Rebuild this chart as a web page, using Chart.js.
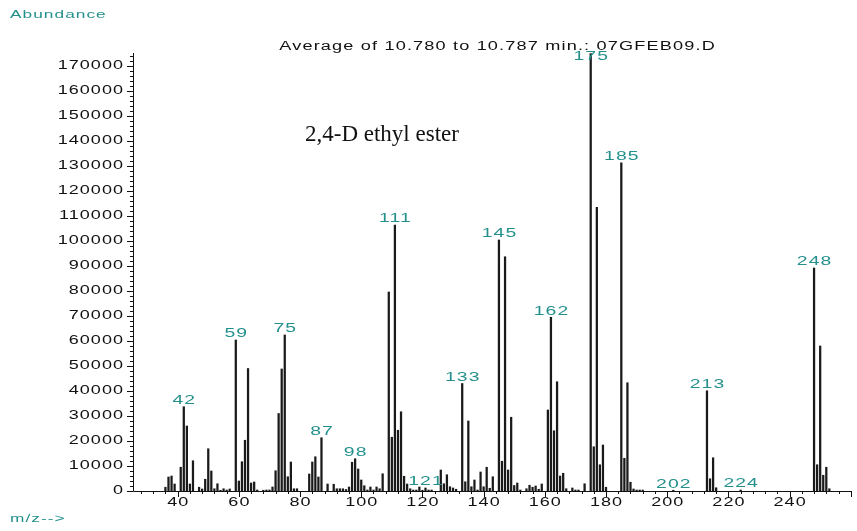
<!DOCTYPE html>
<html>
<head>
<meta charset="utf-8">
<script src="https://cdn.jsdelivr.net/npm/chart.js@4.4.1/dist/chart.umd.min.js"></script>
<style>
  html, body { margin: 0; padding: 0; background: #fff; }
  #wrap { width: 857px; height: 531px; }
</style>
</head>
<body>
<div id="wrap"><canvas id="ms" width="857" height="531"></canvas></div>
<script>
// mass spectrum, averaged scan

const INK = '#111111';
const PEAK = '#1a1a1a';
const TEAL = '#23908c';

const TITLE = 'Average of 10.780 to 10.787 min.: 07GFEB09.D';
const COMPOUND = '2,4-D ethyl ester';
const Y_LABEL = 'Abundance';
const X_LABEL = 'm/z-->';

// m/z of each peak and its abundance
const MZ = [
  36, 37, 38, 39, 41, 42, 43, 44, 45, 47, 48, 49, 50, 51, 52, 53, 54, 55, 56, 57,
  59, 60, 61, 62, 63, 64, 65, 66, 68, 69, 70, 71, 72, 73, 74, 75, 76, 77, 78, 79,
  83, 84, 85, 86, 87, 89, 91, 92, 93, 94, 95, 96, 97, 98, 99, 100, 101, 102, 103, 104,
  105, 106, 107, 109, 110, 111, 112, 113, 114, 115, 116, 117, 118, 119, 120, 121, 122, 123,
  126, 127, 128, 129, 130, 131, 133, 134, 135, 136, 137, 138, 139, 140, 141, 142, 143,
  145, 146, 147, 148, 149, 150, 151, 152, 154, 155, 156, 157, 158, 159,
  161, 162, 163, 164, 165, 166, 167, 169, 170, 171, 173,
  175, 176, 177, 178, 179, 180, 185, 186, 187, 188, 189, 190, 191, 192,
  202, 213, 214, 215, 216, 224, 248, 249, 250, 251, 252, 253
];
const ABUNDANCE = [
  1500, 5600, 6000, 2800, 9500, 33700, 26000, 2800, 12100, 1500, 800, 4700, 16900, 8000, 900, 2900, 300, 900, 400, 800,
  60400, 4000, 11700, 20300, 49000, 3200, 3600, 400, 300, 400, 400, 1600, 8100, 31000, 48800, 62400, 5700, 11600, 900, 900,
  6800, 11600, 13700, 5600, 21300, 2800, 2700, 900, 900, 900, 600, 1600, 11500, 12900, 8800, 4400, 2100, 400, 1600, 400,
  1600, 900, 6900, 79600, 21500, 106400, 24300, 31700, 5900, 2800, 900, 400, 400, 1600, 300, 1200, 400, 400,
  8400, 2900, 6500, 1700, 1200, 700, 43000, 3700, 28000, 1700, 4400, 400, 7600, 1700, 9500, 1100, 5700,
  100400, 11900, 93700, 8400, 29500, 2200, 3200, 400, 900, 2300, 1500, 2000, 700, 2800,
  32400, 69500, 24100, 43700, 6000, 7100, 900, 1200, 400, 400, 2900,
  175000, 17700, 113500, 10500, 18400, 1500, 131300, 13100, 43300, 3500, 800, 400, 400, 400,
  300, 40100, 4900, 13300, 1300, 400, 89200, 10500, 58000, 6300, 9500, 900
];
// peaks that carry their m/z as a label
const LABELED = [42, 59, 75, 87, 98, 111, 121, 133, 145, 162, 175, 185, 202, 213, 224, 248];

// axis ranges and tick steps
const X_MIN = 25.4, X_MAX = 260.4;
const X_TICKS = [40, 60, 80, 100, 120, 140, 160, 180, 200, 220, 240];
const X_MINOR = 4;
const Y_MAX = 175200;
const Y_STEP = 10000, Y_MINOR = 2000;

// instrument-style lettering: wide, slightly spaced sans
function wideText(ctx, text, x, y, { align = 'left', size = 11.5, sx = 1.5, ls = 0.7, color = INK } = {}) {
  ctx.save();
  ctx.font = `${size}px "Liberation Sans", Arial, sans-serif`;
  ctx.letterSpacing = ls + 'px';
  ctx.textAlign = 'left';
  ctx.textBaseline = 'middle';
  ctx.fillStyle = color;
  const w = (ctx.measureText(text).width - ls) * sx;
  let left = x;
  if (align === 'center') left = x - w / 2;
  else if (align === 'right') left = x - w;
  ctx.translate(left, y);
  ctx.scale(sx, 1);
  ctx.fillText(text, 0, 0);
  ctx.restore();
}

const frame = {
  id: 'msFrame',
  afterDraw(chart) {
    const { ctx, chartArea: a, scales: { x, y } } = chart;
    ctx.save();
    ctx.strokeStyle = INK;
    ctx.lineWidth = 1;
    ctx.beginPath();
    ctx.moveTo(a.left + 0.5, a.top);
    ctx.lineTo(a.left + 0.5, a.bottom + 0.5);
    ctx.lineTo(a.right, a.bottom + 0.5);

    // y ticks, to the left of the axis
    for (let v = 0; v <= Y_MAX; v += Y_MINOR) {
      const py = Math.round(y.getPixelForValue(v)) + 0.5;
      const major = v % Y_STEP === 0;
      ctx.moveTo(a.left - (major ? 6 : 3), py);
      ctx.lineTo(a.left, py);
    }
    // x ticks, below the axis
    for (let m = 28; m <= X_MAX; m += X_MINOR) {
      const px = Math.round(x.getPixelForValue(m)) + 0.5;
      const major = m % 20 === 0;
      ctx.moveTo(px, a.bottom);
      ctx.lineTo(px, a.bottom + (major ? 6 : 3));
    }
    ctx.stroke();
    ctx.restore();

    for (let v = 0; v <= Y_MAX; v += Y_STEP) {
      wideText(ctx, String(v), a.left - 10, y.getPixelForValue(v), { align: 'right', size: 12 });
    }
    for (const m of X_TICKS) {
      wideText(ctx, String(m), x.getPixelForValue(m), a.bottom + 12, { align: 'center', size: 12 });
    }

    wideText(ctx, Y_LABEL, 10, 15, { color: TEAL });
    wideText(ctx, X_LABEL, 10, 519, { color: TEAL });
    wideText(ctx, TITLE, 497, 47, { align: 'center', size: 12.5, sx: 1.45, ls: 0.8 });

    ctx.save();
    ctx.font = '23px "Liberation Serif", "Times New Roman", serif';
    ctx.fillStyle = INK;
    ctx.textBaseline = 'middle';
    ctx.fillText(COMPOUND, 305, 135);
    ctx.restore();
  },
  afterDatasetsDraw(chart) {
    const { ctx, chartArea: a } = chart;
    const bars = chart.getDatasetMeta(0).data;
    for (const m of LABELED) {
      const bar = bars[MZ.indexOf(m)];
      if (!bar) continue;
      const cy = Math.max(bar.y - 6, a.top + 4);
      wideText(ctx, String(m), bar.x, cy, { align: 'center', size: 12.5, sx: 1.55, color: TEAL });
    }
  }
};

new Chart(document.getElementById('ms'), {
  type: 'bar',
  data: {
    datasets: [{
      data: MZ.map((m, i) => ({ x: m, y: ABUNDANCE[i] })),
      backgroundColor: PEAK,
      borderWidth: 0,
      barThickness: 1.6
    }]
  },
  options: {
    responsive: false,
    animation: false,
    layout: { padding: { left: 133, right: 5, top: 53, bottom: 40 } },
    plugins: { legend: { display: false }, tooltip: { enabled: false } },
    scales: {
      x: { type: 'linear', min: X_MIN, max: X_MAX, offset: false, grid: { offset: false }, display: false },
      y: { min: 0, max: Y_MAX, display: false }
    }
  },
  plugins: [frame]
});
</script>
</body>
</html>
